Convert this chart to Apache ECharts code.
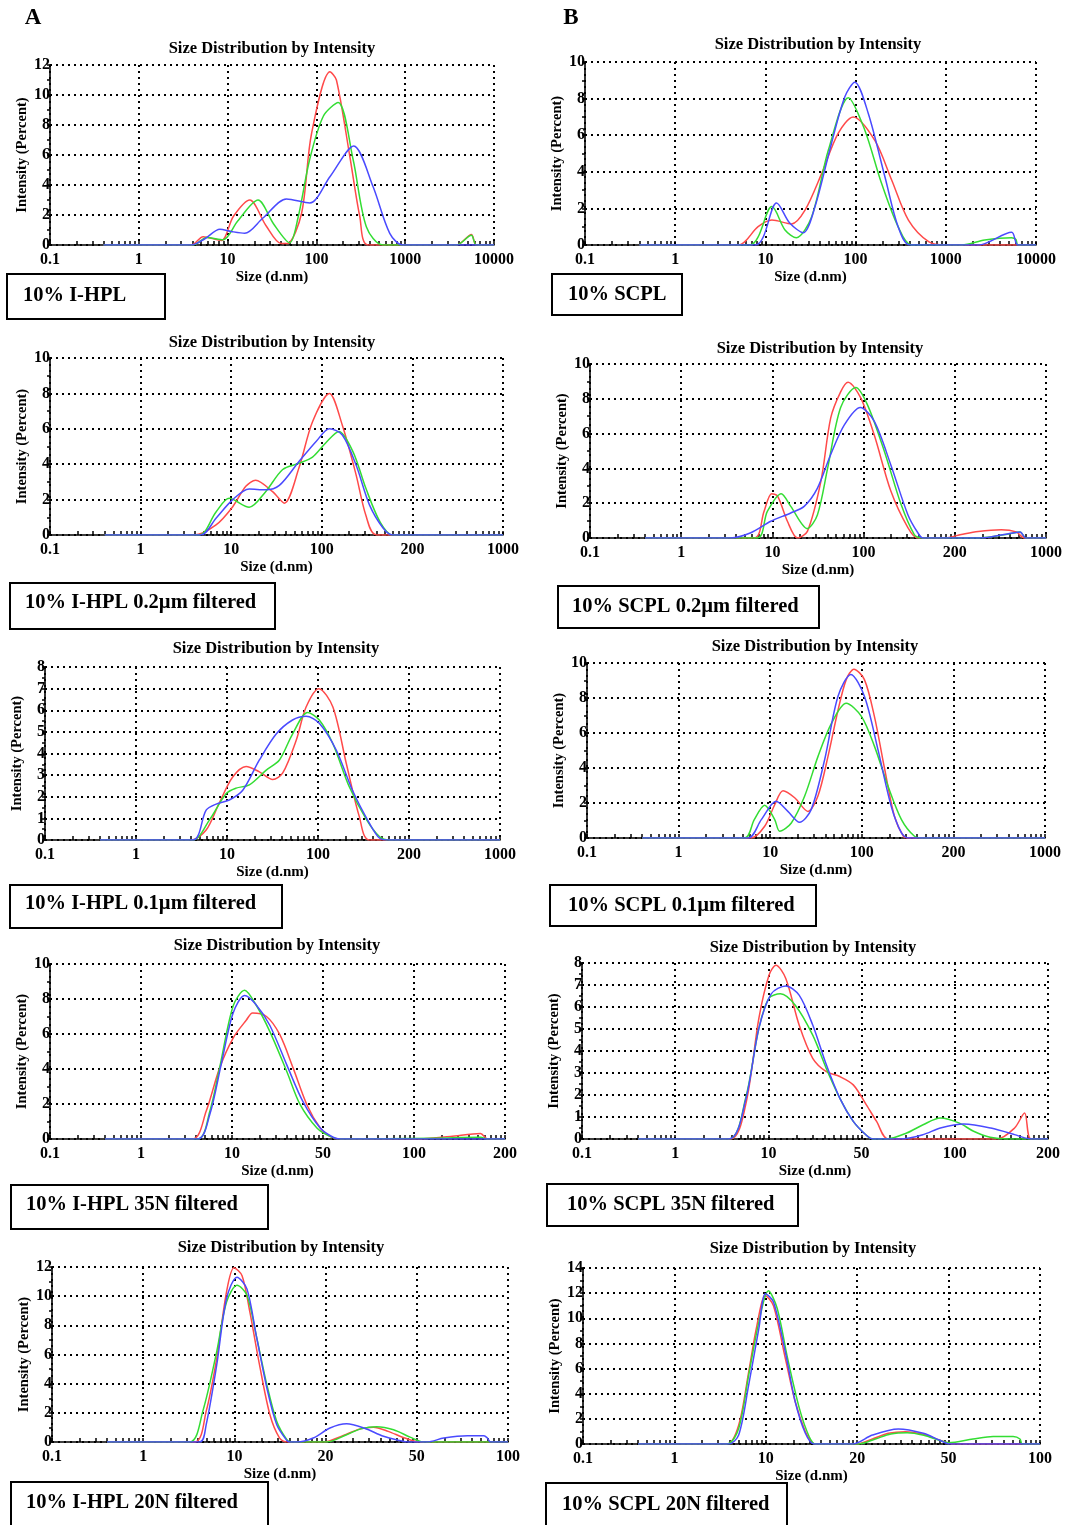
<!DOCTYPE html>
<html>
<head>
<meta charset="utf-8">
<script src="https://cdn.jsdelivr.net/npm/echarts@6/dist/echarts.min.js"></script>
<style>
  html, body { margin: 0; background: #fff; }
  #main { width: 1091px; height: 1525px; }
</style>
</head>
<body>
<div id="main"></div>
<script>
// ---- data: [size (d.nm), intensity (%)] ----
const A1_ticks = [0.1, 1, 10, 100, 1000, 10000];
const A1_red = [[0.4,0],[3.9,0],[5.3,0.55],[8.5,0.3],[11.6,1.9],[17.8,3.0],[27,1.3],[40,0.1],[47,0.1],[68,2.1],[88,7.4],[142,11.55],[168,11.0],[238,5.9],[308,1.9],[382,0],[3770,0],[5560,0.7],[6330,0],[10000,0]];
const A1_green = [[0.4,0],[4.1,0],[5.8,0.5],[8.9,0.35],[13,1.6],[22,3.0],[33,1.4],[50,0.15],[62,1.8],[84,5.7],[120,8.6],[176,9.5],[259,5.7],[366,1.2],[564,0],[3770,0],[5560,0.65],[6330,0],[10000,0]];
const A1_blue = [[0.4,0],[3.9,0],[5.5,0.4],[8.2,1.05],[11,0.9],[15.6,0.78],[25,1.8],[46,3.07],[84,2.8],[142,4.55],[263,6.6],[434,3.9],[670,0.78],[946,0],[10000,0]];

const B1_ticks = [0.1, 1, 10, 100, 1000, 10000];
const B1_red = [[0.4,0],[5,0],[8.3,1.0],[11.8,1.36],[19.5,1.15],[27.5,1.9],[42,3.9],[64,6.1],[94,7.0],[164,5.7],[251,3.55],[385,1.36],[645,0.18],[980,0],[10000,0]];
const B1_green = [[0.4,0],[6.7,0],[11.8,2.1],[16.5,0.82],[22,0.4],[32.6,1.55],[50,5.2],[83,8.05],[126,6.3],[193,3.4],[296,1.0],[415,0],[1500,0],[2700,0.27],[5350,0.4],[6000,0.3],[6300,0],[10000,0]];
const B1_blue = [[0.4,0],[7.7,0],[13.3,2.3],[18.6,1.2],[26.3,0.67],[35.5,2.1],[54,5.55],[76,8.1],[98,8.9],[138,7.2],[212,3.7],[296,1.0],[400,0],[2290,0],[5370,0.7],[6300,0],[10000,0]];

const A2_ticks = [0.1, 1, 10, 100, 200, 1000];
const A2_red = [[0.4,0],[3.9,0],[6.8,0.57],[10.4,1.6],[14.5,2.75],[18.6,3.1],[28.6,2.45],[38.6,1.8],[56,3.8],[79,6.4],[106,8.0],[117,6.2],[130,3.4],[140,1.13],[152,0],[1000,0]];
const A2_green = [[0.4,0],[4.4,0],[6.8,1.3],[9.5,2.07],[15.8,1.57],[24,2.45],[37,3.7],[56,4.05],[79,4.4],[103,5.2],[114,5.85],[127,4.7],[140,2.65],[156,0.75],[172,0],[1000,0]];
const A2_blue = [[0.4,0],[4.6,0],[6.8,0.95],[10.4,2.0],[15.8,2.6],[24,2.55],[34,2.8],[56,4.15],[87,5.3],[106,6.0],[117,5.65],[130,3.95],[144,1.7],[160,0.38],[172,0],[1000,0]];

const B2_ticks = [0.1, 1, 10, 100, 200, 1000];
const B2_red = [[0.4,0],[6.3,0],[8.1,1.53],[9.8,2.55],[11.4,2.4],[14.6,0.96],[18.8,0],[24.2,0.38],[34,3.25],[43.6,6.9],[56,8.4],[67.6,8.95],[93,8.05],[108.5,5.9],[123,2.7],[140,0.6],[151,0],[185,0],[224,0.2],[302,0.38],[454,0.48],[591,0.35],[683,0],[1000,0]];
const B2_green = [[0.4,0],[6.8,0],[8.8,1.53],[12.5,2.55],[15.9,1.82],[24.2,0.54],[31.2,1.34],[40.3,4.0],[56,7.5],[82,8.65],[103,7.65],[117,5.0],[133,1.92],[147,0.2],[155,0],[302,0],[520,0.23],[633,0.35],[700,0],[1000,0]];
const B2_blue = [[0.4,0],[3.5,0],[5.8,0.3],[9.6,0.96],[15.9,1.44],[22.3,1.82],[31.2,2.87],[43.6,4.8],[61.5,6.5],[92,7.5],[108.5,6.7],[123,4.2],[140,1.34],[151,0.3],[157,0],[318,0],[476,0.2],[633,0.35],[700,0],[1000,0]];

const A3_ticks = [0.1, 1, 10, 100, 200, 1000];
const A3_red = [[0.4,0],[4.0,0],[5.9,0.46],[8.2,1.7],[11.5,2.9],[16.2,3.4],[22.7,3.15],[31.8,2.8],[41,3.1],[57.5,4.6],[74,6.15],[100.7,7.0],[112,6.15],[124,3.55],[137,1.08],[148,0],[1000,0]];
const A3_green = [[0.4,0],[4.2,0],[6.4,0.92],[9.8,2.15],[12.6,2.4],[17.6,2.55],[27,3.23],[37.7,3.7],[52.5,4.9],[77,5.9],[101,5.55],[112,4.45],[127,2.45],[145,0.92],[160,0.15],[172,0],[1000,0]];
const A3_blue = [[0.4,0],[4.2,0],[5.9,1.38],[7.6,1.66],[10.6,1.85],[14.9,2.3],[22.7,3.7],[34.7,4.9],[52.5,5.55],[74,5.72],[101,5.4],[115,4.15],[130,2.3],[148,0.77],[160,0.08],[172,0],[1000,0]];

const B3_ticks = [0.1, 1, 10, 100, 200, 1000];
const B3_red = [[0.4,0],[6.2,0],[8.7,0.67],[11.2,1.9],[13.8,2.7],[18.5,2.3],[25.8,1.52],[33.2,2.4],[42.7,4.65],[55,7.3],[67.6,9.05],[82,9.65],[102,9.05],[110,6.95],[119,3.9],[128,1.24],[137,0.1],[142,0],[1000,0]];
const B3_green = [[0.4,0],[5.25,0],[6.7,1.05],[8.7,1.87],[11.2,1.05],[12.7,0.38],[17,0.86],[23.8,2.4],[33.2,4.65],[46.6,6.55],[67.6,7.7],[99,6.95],[110,5.25],[122,2.95],[135,1.05],[149,0.1],[159,0],[1000,0]];
const B3_blue = [[0.4,0],[5.7,0],[8.0,1.05],[11.6,2.1],[15.6,1.52],[20.9,0.9],[28,1.62],[39.4,4.5],[55,8.1],[76,9.35],[102,8.1],[113,5.05],[125,1.8],[135,0.29],[142,0],[1000,0]];

const A4_ticks = [0.1, 1, 10, 50, 100, 200];
const A4_red = [[0.4,0],[3.7,0],[5.2,1.58],[7.3,4.05],[10.2,5.77],[12.9,6.8],[14.4,7.2],[18.4,7.0],[23.3,5.96],[29.5,4.05],[37.6,1.96],[47.6,0.63],[52.7,0.15],[57,0],[102,0],[132,0.15],[166,0.32],[175,0],[200,0]];
const A4_green = [[0.4,0],[4.2,0],[5.7,1.58],[7.3,4.05],[10.2,7.6],[12.5,8.5],[15.2,7.7],[19.5,6.15],[26.3,3.87],[33.4,1.96],[44.9,0.63],[52.7,0.15],[57,0],[116,0.05],[166,0.1],[175,0],[200,0]];
const A4_blue = [[0.4,0],[4.2,0],[5.7,1.4],[7.6,4.25],[10.2,7.2],[12.5,8.2],[15.2,7.7],[19.5,6.5],[26.3,4.25],[35,2.15],[47.6,0.63],[54,0.1],[57,0],[200,0]];

const B4_ticks = [0.1, 1, 10, 50, 100, 200];
const B4_red = [[0.4,0],[3.9,0],[5.7,1.55],[7.9,5.48],[10.1,7.44],[11.4,7.9],[13.5,7.3],[17,5.18],[21.5,3.67],[27.2,3.06],[34.3,2.84],[43.3,2.46],[51.8,1.55],[55.9,0.8],[61,0],[137,0],[156,0.5],[168,1.18],[176,0],[200,0]];
const B4_green = [[0.4,0],[3.76,0],[5.7,1.86],[7.9,5.03],[10.1,6.4],[12.3,6.6],[15.9,6.08],[21.5,4.72],[27.2,3.2],[34.3,1.86],[43.3,0.8],[51.8,0.17],[54.4,0],[60.2,0],[69.9,0.27],[79,0.65],[89.8,0.95],[103.5,0.72],[115,0.35],[130,0.08],[148,0],[200,0]];
const B4_blue = [[0.4,0],[3.76,0],[5.7,1.78],[7.9,5.03],[10.5,6.6],[13.5,6.96],[17,6.54],[21.5,5.18],[27.2,3.37],[34.3,1.86],[43.3,0.8],[51.8,0.17],[54.4,0],[66.6,0],[79,0.2],[89.8,0.5],[107,0.68],[130.7,0.5],[156,0.2],[168,0.05],[176,0],[200,0]];

const A5_ticks = [0.1, 1, 10, 20, 50, 100];
const A5_red = [[0.4,0],[3.67,0],[4.9,2.1],[6.4,5.74],[8.2,10.3],[9.9,11.95],[10.6,11.4],[11.25,8.9],[12.1,5.3],[13.1,1.87],[14.1,0.27],[14.9,0],[19.7,0],[23.9,0.45],[28.3,0.9],[32.3,1.02],[37.5,0.73],[44.3,0.27],[51.4,0],[100,0]];
const A5_green = [[0.4,0],[3.24,0],[4.5,2.1],[6.4,6.2],[8.2,9.6],[10.2,10.75],[11.0,10.07],[11.8,7.33],[12.8,3.92],[13.8,1.41],[14.9,0.16],[15.4,0],[20.2,0],[24.7,0.5],[28.5,0.9],[33.4,1.05],[39.6,0.84],[47,0.32],[52.7,0],[100,0]];
const A5_blue = [[0.4,0],[4.17,0],[4.9,1.18],[6.4,5.28],[8.2,9.84],[10.2,11.3],[11.0,10.5],[11.8,7.33],[12.8,3.7],[13.8,1.18],[14.9,0.1],[15.2,0],[16.1,0],[18.2,0.27],[20.9,0.96],[24.7,1.25],[29.4,0.96],[35.8,0.39],[42.1,0.1],[45.8,0],[54,0],[61.4,0.27],[73.4,0.43],[83.3,0.43],[85.5,0.27],[87.7,0],[100,0]];

const B5_ticks = [0.1, 1, 10, 20, 50, 100];
const B5_red = [[0.4,0],[3.76,0],[5.05,1.5],[6.5,5.74],[8.0,9.44],[9.9,11.8],[10.6,11.0],[11.6,6.8],[12.5,3.36],[13.5,0.98],[14.2,0.13],[14.6,0],[19.8,0],[23.3,0.4],[27.3,0.85],[32.4,0.98],[38.8,0.77],[45.5,0.32],[51.7,0],[100,0]];
const B5_green = [[0.4,0],[3.76,0],[5.05,1.24],[6.5,5.48],[8.4,9.7],[10.2,12.2],[10.9,10.8],[11.8,6.8],[12.9,2.83],[13.9,0.58],[14.6,0],[20.3,0],[24,0.4],[28,0.8],[33,0.9],[39,0.7],[45.5,0.3],[50,0.1],[60.2,0.4],[70.1,0.6],[81.6,0.6],[85.9,0.4],[87.4,0],[100,0]];
const B5_blue = [[0.4,0],[3.9,0],[5.05,0.71],[6.5,4.7],[8.4,9.2],[9.9,11.95],[10.6,11.3],[11.6,7.3],[12.5,3.36],[13.5,0.85],[14.4,0],[19.3,0],[23.3,0.71],[30.2,1.19],[38.8,0.85],[45.5,0.32],[50.3,0],[100,0]];

const labels = [
  '10% I-HPL', '10% SCPL',
  '10% I-HPL 0.2µm filtered', '10% SCPL 0.2µm filtered',
  '10% I-HPL 0.1µm filtered', '10% SCPL 0.1µm filtered',
  '10% I-HPL 35N filtered', '10% SCPL 35N filtered',
  '10% I-HPL 20N filtered', '10% SCPL 20N filtered'
];
const yMax = [12, 10, 10, 10, 8, 10, 10, 8, 12, 14];

const FONT = '"Liberation Serif", "Times New Roman", serif';
const colors = ['#ff4a4a', '#33dd33', '#4a4aff'];

// layout of the ten panels (px)
const panels = [
  { ticks: A1_ticks, data: [A1_red, A1_green, A1_blue], grid: [50, 65, 444, 180], title: [272, 49], box: [7, 274, 158, 45], text: [23, 296] },
  { ticks: B1_ticks, data: [B1_red, B1_green, B1_blue], grid: [585, 62, 451, 183], title: [818, 45], box: [552, 274, 130, 41], text: [568, 295] },
  { ticks: A2_ticks, data: [A2_red, A2_green, A2_blue], grid: [50, 358, 453, 177], title: [272, 343], box: [10, 583, 265, 46], text: [25, 603] },
  { ticks: B2_ticks, data: [B2_red, B2_green, B2_blue], grid: [590, 364, 456, 174], title: [820, 349], box: [558, 586, 261, 42], text: [572, 607] },
  { ticks: A3_ticks, data: [A3_red, A3_green, A3_blue], grid: [45, 667, 455, 173], title: [276, 649], box: [10, 885, 272, 43], text: [25, 904] },
  { ticks: B3_ticks, data: [B3_red, B3_green, B3_blue], grid: [587, 663, 458, 175], title: [815, 647], box: [550, 885, 266, 41], text: [568, 906] },
  { ticks: A4_ticks, data: [A4_red, A4_green, A4_blue], grid: [50, 964, 455, 175], title: [277, 946], box: [11, 1185, 257, 44], text: [26, 1205] },
  { ticks: B4_ticks, data: [B4_red, B4_green, B4_blue], grid: [582, 963, 466, 176], title: [813, 948], box: [547, 1184, 251, 42], text: [567, 1205] },
  { ticks: A5_ticks, data: [A5_red, A5_green, A5_blue], grid: [52, 1267, 456, 175], title: [281, 1248], box: [11, 1482, 257, 46], text: [26, 1503] },
  { ticks: B5_ticks, data: [B5_red, B5_green, B5_blue], grid: [583, 1268, 457, 176], title: [813, 1249], box: [546, 1483, 241, 45], text: [562, 1505] }
];

// size -> position on the (unevenly labelled) log-style axis
function toPos(ticks, s) {
  for (let i = 0; i < ticks.length - 1; i++) {
    if (s <= ticks[i + 1] || i === ticks.length - 2) {
      return i + Math.log(s / ticks[i]) / Math.log(ticks[i + 1] / ticks[i]);
    }
  }
}

function minorTicks(n) {
  const out = [];
  for (let i = 0; i < n - 1; i++) {
    for (let k = 1; k <= 10; k++) out.push(i + Math.log10(k));
  }
  return out;
}

const bold = { color: '#000', fontFamily: FONT, fontWeight: 'bold' };
const dotted = { type: [2, 4], color: '#000', width: 2 };

const grids = [], xAxes = [], yAxes = [], series = [], graphics = [];

panels.forEach(function (p, i) {
  const n = p.ticks.length;
  grids.push({ left: p.grid[0], top: p.grid[1], width: p.grid[2], height: p.grid[3] });
  xAxes.push({
    type: 'value', gridIndex: i, position: 'bottom', min: 0, max: n - 1, interval: 1,
    axisLine: { show: true, onZero: false, lineStyle: { color: '#000', width: 1.6 } },
    axisTick: { show: false },
    axisLabel: Object.assign({ fontSize: 16, margin: 7, formatter: v => String(p.ticks[Math.round(v)]) }, bold),
    splitLine: { show: true, lineStyle: dotted },
    name: 'Size (d.nm)', nameLocation: 'middle', nameGap: 25,
    nameTextStyle: Object.assign({ fontSize: 15 }, bold)
  });
  xAxes.push({
    type: 'value', gridIndex: i, position: 'bottom', min: 0, max: n - 1,
    axisLine: { show: false }, axisLabel: { show: false }, splitLine: { show: false },
    axisTick: { show: true, inside: true, length: 4, customValues: minorTicks(n), lineStyle: { color: '#000', width: 1.5 } }
  });
  yAxes.push({
    type: 'value', gridIndex: i, min: 0, max: yMax[i], interval: yMax[i] === 8 ? 1 : 2,
    axisLine: { show: true, lineStyle: { color: '#000', width: 1.6 } },
    axisTick: { show: true, length: 3, lineStyle: { color: '#000', width: 1.5 } },
    minorTick: { show: true, splitNumber: 2, length: 3, lineStyle: { color: '#000', width: 1.5 } },
    axisLabel: Object.assign({ fontSize: 16, margin: 0 }, bold),
    splitLine: { show: true, lineStyle: dotted },
    name: 'Intensity (Percent)', nameLocation: 'middle', nameGap: 20, nameRotate: 90,
    nameTextStyle: Object.assign({ fontSize: 14.5 }, bold)
  });
  p.data.forEach(function (d, k) {
    series.push({
      type: 'line', xAxisIndex: 2 * i, yAxisIndex: i, showSymbol: false,
      smooth: 0.3,
      silent: true, animation: false,
      lineStyle: { color: colors[k], width: 1.5 },
      itemStyle: { color: colors[k] },
      data: d.map(pt => [toPos(p.ticks, pt[0]), pt[1]])
    });
  });
  graphics.push({
    type: 'text', x: p.title[0], y: p.title[1],
    style: { text: 'Size Distribution by Intensity', font: 'bold 16.5px ' + FONT, fill: '#000', align: 'center', verticalAlign: 'middle' }
  });
  graphics.push({
    type: 'rect', shape: { x: p.box[0], y: p.box[1], width: p.box[2], height: p.box[3] },
    style: { fill: '#fff', stroke: '#000', lineWidth: 2 }
  });
  graphics.push({
    type: 'text', x: p.text[0], y: p.text[1],
    style: { text: labels[i], font: 'bold 20.5px ' + FONT, fill: '#000', align: 'left', verticalAlign: 'middle' }
  });
});

graphics.push({ type: 'text', x: 33, y: 18, style: { text: 'A', font: 'bold 23px ' + FONT, fill: '#000', align: 'center', verticalAlign: 'middle' } });
graphics.push({ type: 'text', x: 571, y: 18, style: { text: 'B', font: 'bold 23px ' + FONT, fill: '#000', align: 'center', verticalAlign: 'middle' } });

const chart = echarts.init(document.getElementById('main'));
chart.setOption({
  backgroundColor: '#fff',
  animation: false,
  textStyle: { fontFamily: FONT },
  grid: grids,
  xAxis: xAxes,
  yAxis: yAxes,
  series: series,
  graphic: graphics
});
</script>
</body>
</html>
